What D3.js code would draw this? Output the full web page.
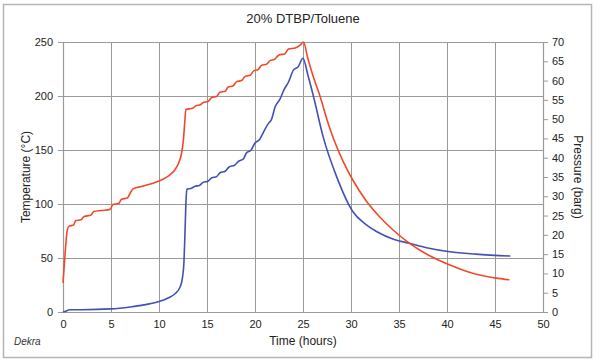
<!DOCTYPE html>
<html>
<head>
<meta charset="utf-8">
<script src="https://cdn.jsdelivr.net/npm/d3@7"></script>
<style>
  body { margin: 0; background: #fff; }
  svg { display: block; font-family: "Liberation Sans", Arial, sans-serif; }
</style>
</head>
<body>
<div id="graph"></div>
<script>
// temperature (deg C) vs time (h)
var tempData = [
  [0, 27], [0.2, 52], [0.45, 76], [0.65, 79.5], [1.1, 80.5], [1.3, 84.5], [1.9, 85.5],
  [2.2, 88.5], [2.9, 89.5], [3.2, 93], [4.0, 94], [4.9, 95], [5.2, 99.5], [5.8, 100.5],
  [6.1, 104.5], [6.7, 105.5], [7.0, 110], [7.3, 114], [8.3, 116.5], [9.3, 119],
  [10.3, 122.5], [11.0, 126], [11.6, 131], [12.0, 137], [12.35, 147], [12.55, 160],
  [12.7, 178], [12.8, 187.5], [13.5, 188.6], [13.85, 191], [14.3, 191.8], [14.6, 194],
  [15.1, 194.8], [15.5, 198.7], [16.0, 199.6], [16.35, 203.5], [16.9, 204.5], [17.2, 208.3],
  [17.7, 209.3], [18.1, 213.3], [18.6, 214.3], [19.0, 218.3], [19.5, 219.3], [19.9, 223.5],
  [20.3, 224.3], [20.7, 228.5], [21.2, 229.3], [21.6, 233], [22.0, 233.8], [22.5, 238],
  [23.1, 239], [23.5, 243.5], [24.2, 244.5], [24.7, 247], [25.05, 250],
  [25.5, 235], [26.0, 220], [26.8, 199], [27.5, 178], [28.2, 160], [29.2, 139],
  [30.2, 122], [31.5, 104], [33.0, 88], [34.5, 75], [36.1, 63.6], [38.0, 53],
  [40.3, 43.5], [42.0, 37.8], [43.4, 34.2], [45.0, 31.6], [46.5, 29.8]
];

// pressure (barg) vs time (h)
var pressData = [
  [0, 0], [0.3, 0.2], [0.7, 0.6], [2, 0.6], [5, 0.8], [7, 1.3], [9, 2.1], [10, 2.7],
  [11, 3.7], [11.7, 4.8], [12.2, 6.5], [12.45, 9], [12.6, 13], [12.7, 20], [12.8, 28],
  [12.9, 31.8], [13.4, 32.1], [13.75, 32.6], [14.2, 32.8], [14.6, 33.6], [15.1, 33.9],
  [15.5, 34.8], [16.0, 35.1], [16.35, 36.1], [16.9, 36.5], [17.3, 37.6], [17.9, 38.1],
  [18.3, 39.1], [18.8, 39.7], [19.1, 41.2], [19.6, 42], [20.0, 43.8], [20.5, 44.8],
  [20.9, 46.7], [21.4, 48.9], [21.7, 49.8], [22.1, 53.2], [22.6, 55.2], [23.0, 57.5],
  [23.5, 59.7], [24.0, 62.7], [24.5, 63.6], [25.0, 65.8],
  [25.5, 61.5], [26.1, 55.8], [27.1, 45.4], [28.5, 35.1], [30.2, 26], [31.5, 22.8],
  [32.7, 20.8], [34.5, 18.8], [36.1, 17.8], [38.0, 16.6], [40.3, 15.6], [43.0, 15],
  [46.6, 14.5]
];

var xTicks = [0, 5, 10, 15, 20, 25, 30, 35, 40, 45, 50];
var tempTicks = [0, 50, 100, 150, 200, 250];
var pressTicks = [0, 5, 10, 15, 20, 25, 30, 35, 40, 45, 50, 55, 60, 65, 70];

var width = 600, height = 364;
var mLeft = 63, mRight = 543, mTop = 42, mBottom = 312;

var svg = d3.select("#graph").append("svg")
    .attr("width", width)
    .attr("height", height);

// outer frame
svg.append("rect")
    .attr("x", 3.5).attr("y", 4.5)
    .attr("width", 588).attr("height", 353)
    .attr("fill", "none")
    .attr("stroke", "#b5b5b5")
    .attr("stroke-width", 1.5);

var x = d3.scaleLinear().domain([0, 50]).range([mLeft, mRight]);
var yT = d3.scaleLinear().domain([0, 250]).range([mBottom, mTop]);
var yP = d3.scaleLinear().domain([0, 70]).range([mBottom, mTop]);

var gridColor = "#9a9a9a";

// grid
svg.append("g").selectAll("line")
    .data(xTicks.slice(1))
    .enter().append("line")
    .attr("x1", function(d) { return Math.round(x(d)) + 0.5; })
    .attr("x2", function(d) { return Math.round(x(d)) + 0.5; })
    .attr("y1", mTop).attr("y2", mBottom)
    .attr("stroke", gridColor).attr("stroke-width", 1);

svg.append("g").selectAll("line")
    .data(tempTicks.slice(1))
    .enter().append("line")
    .attr("x1", mLeft).attr("x2", mRight)
    .attr("y1", function(d) { return Math.round(yT(d)) + 0.5; })
    .attr("y2", function(d) { return Math.round(yT(d)) + 0.5; })
    .attr("stroke", gridColor).attr("stroke-width", 1);

// axes
function styleAxis(g) {
    g.select(".domain").attr("stroke", gridColor).attr("stroke-width", 1.2);
    g.selectAll(".tick line").attr("stroke", gridColor);
    g.selectAll(".tick text")
        .attr("fill", "#222")
        .attr("font-size", "11px");
}

svg.append("g")
    .attr("transform", "translate(" + mLeft + ",0)")
    .call(d3.axisLeft(yT).tickValues(tempTicks).tickSize(5).tickPadding(5).tickSizeOuter(0))
    .call(styleAxis);

svg.append("g")
    .attr("transform", "translate(" + mRight + ",0)")
    .call(d3.axisRight(yP).tickValues(pressTicks).tickSize(5).tickPadding(4).tickSizeOuter(0))
    .call(styleAxis);

svg.append("g")
    .attr("transform", "translate(0," + mBottom + ")")
    .call(d3.axisBottom(x).tickValues(xTicks).tickSize(0).tickPadding(8).tickSizeOuter(0))
    .call(styleAxis);

// lines
var lineT = d3.line()
    .x(function(d) { return x(d[0]); })
    .y(function(d) { return yT(d[1]); })
    .curve(d3.curveMonotoneX);

var lineP = d3.line()
    .x(function(d) { return x(d[0]); })
    .y(function(d) { return yP(d[1]); })
    .curve(d3.curveMonotoneX);

svg.append("path")
    .datum(pressData)
    .attr("d", lineP)
    .attr("fill", "none")
    .attr("stroke", "#4450b4")
    .attr("stroke-width", 1.6);

svg.append("path")
    .datum(tempData)
    .attr("d", lineT)
    .attr("fill", "none")
    .attr("stroke", "#f2482a")
    .attr("stroke-width", 1.6);

// texts
svg.append("text")
    .attr("x", 303).attr("y", 23)
    .attr("text-anchor", "middle")
    .attr("font-size", "13px")
    .attr("fill", "#222")
    .text("20% DTBP/Toluene");

svg.append("text")
    .attr("transform", "translate(30," + ((mTop + mBottom) / 2) + ") rotate(-90)")
    .attr("text-anchor", "middle")
    .attr("font-size", "12px")
    .attr("fill", "#222")
    .text("Temperature (°C)");

svg.append("text")
    .attr("transform", "translate(574," + ((mTop + mBottom) / 2) + ") rotate(90)")
    .attr("text-anchor", "middle")
    .attr("font-size", "12px")
    .attr("fill", "#222")
    .text("Pressure (barg)");

svg.append("text")
    .attr("x", 303).attr("y", 345)
    .attr("text-anchor", "middle")
    .attr("font-size", "12px")
    .attr("fill", "#222")
    .text("Time (hours)");

svg.append("text")
    .attr("x", 14).attr("y", 345)
    .attr("font-size", "10px")
    .attr("font-style", "italic")
    .attr("fill", "#333")
    .text("Dekra");
</script>
</body>
</html>
